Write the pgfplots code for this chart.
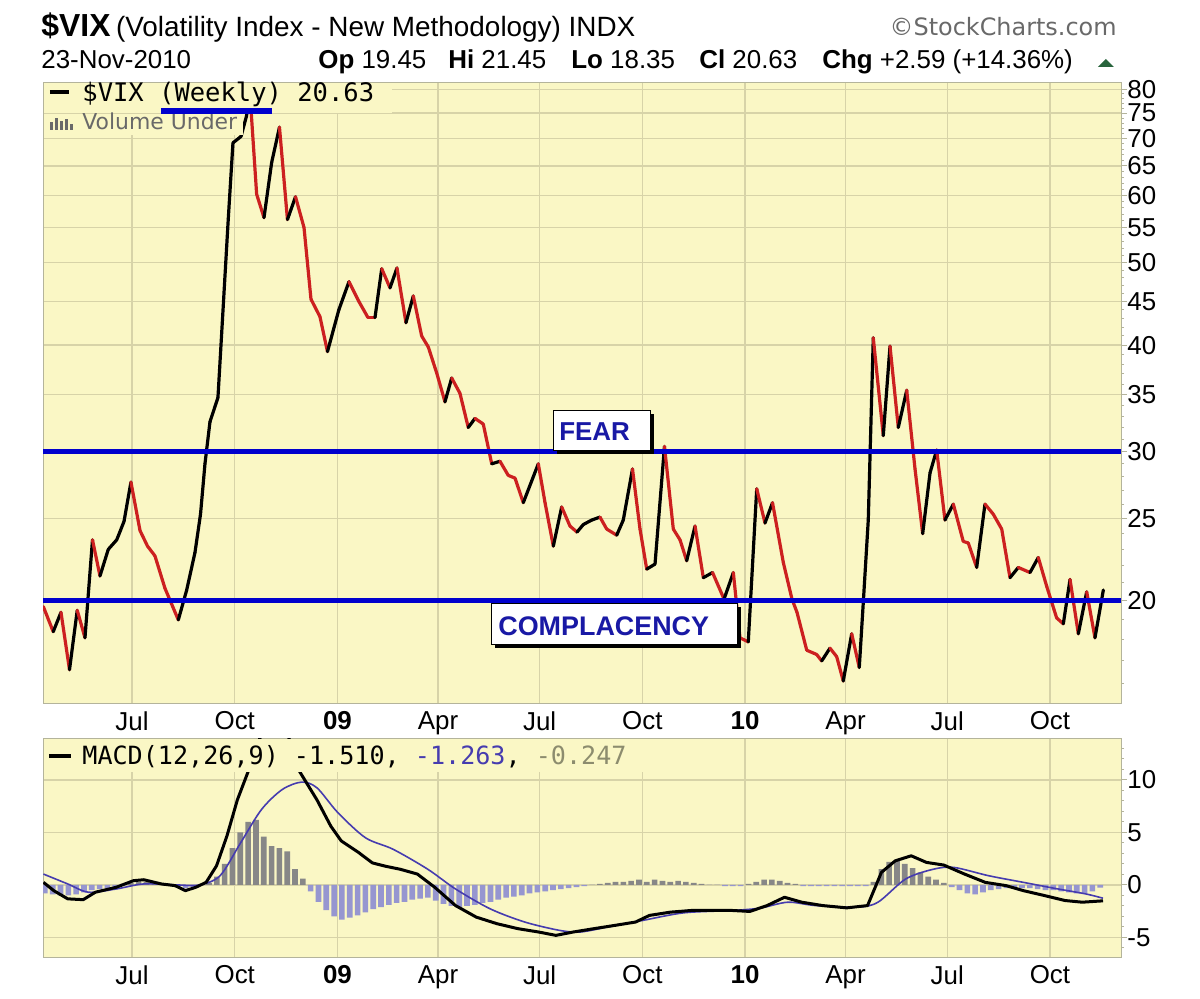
\documentclass[border=0pt]{standalone}
\usepackage{fontspec}
\setmainfont{Liberation Sans}
\newfontfamily\monof{DejaVu Sans Mono}
\newfontfamily\dvs{DejaVu Sans}
\usepackage{pgfplots}
\usepackage{pgfplotstable}
\pgfplotsset{compat=1.18}

\definecolor{panelbg}{RGB}{250,247,197}
\definecolor{gridc}{RGB}{215,211,168}
\definecolor{framec}{RGB}{180,180,155}
\definecolor{vixred}{RGB}{204,32,32}
\definecolor{lineblue}{RGB}{0,0,205}
\definecolor{boxblue}{RGB}{25,25,165}
\definecolor{sigblue}{RGB}{70,60,175}
\definecolor{histgray}{RGB}{135,135,135}
\definecolor{histlav}{RGB}{150,150,208}
\definecolor{txtgray}{RGB}{105,105,105}
\definecolor{olivegray}{RGB}{140,140,110}
\definecolor{upgreen}{RGB}{40,100,60}

% VIX weekly close: week index, value, c=1 if next segment falls (red)
\pgfplotstableread{
w v c
-0.20 19.7 1
1.07 18.4 0
2.06 19.4 1
3.15 16.6 0
4.14 19.5 1
5.13 18.1 0
6.09 23.6 1
7.05 21.4 0
8.11 23.0 0
9.19 23.6 0
10.12 24.8 0
11.01 27.6 1
12.17 24.2 1
13.13 23.2 1
14.08 22.6 1
15.36 20.7 1
17.07 19.0 0
18.14 20.6 0
19.20 22.8 0
19.91 25.3 0
20.48 29.0 0
21.12 32.5 0
22.14 34.7 0
22.72 42.9 0
23.46 56.3 0
24.06 69.2 0
25.09 70.4 0
25.79 74.4 0
26.24 79.0 1
27.09 60.2 1
28.03 56.5 0
29.01 65.6 0
30.01 72.2 1
31.03 56.2 0
32.06 59.8 1
33.15 55.0 1
34.04 45.3 1
35.19 43.2 1
36.15 39.3 0
37.60 44.0 0
38.90 47.5 1
40.18 45.0 1
41.33 43.1 1
42.23 43.1 0
43.09 49.2 1
44.15 46.7 0
45.04 49.3 1
46.19 42.5 0
47.13 45.7 1
48.20 41.0 1
49.05 39.8 1
50.12 37.1 1
51.18 34.3 0
52.04 36.6 1
53.10 35.1 1
54.16 32.0 0
55.02 32.8 1
56.08 32.3 1
57.16 29.0 0
58.22 29.2 1
59.28 28.1 1
60.14 27.9 1
61.20 26.1 0
63.12 29.0 1
63.98 26.1 1
65.04 23.2 0
66.11 25.8 1
67.17 24.5 1
68.07 24.1 0
68.88 24.6 0
69.95 24.9 0
71.01 25.1 1
71.87 24.3 1
73.15 23.9 0
73.99 24.9 0
75.17 28.6 1
76.13 24.3 1
76.99 21.8 0
78.05 22.1 0
79.26 30.4 1
80.39 24.3 1
81.25 23.6 1
82.10 22.3 0
83.17 24.5 1
84.23 21.3 0
85.41 21.6 1
86.88 20.1 0
88.07 21.6 1
88.92 18.1 1
89.98 17.9 0
91.06 27.1 1
92.12 24.7 0
93.08 26.1 1
94.46 22.2 1
95.57 20.1 1
96.21 19.4 1
97.46 17.5 1
98.73 17.3 1
99.37 17.0 0
100.43 17.6 1
101.29 17.2 1
102.13 16.1 0
103.21 18.3 1
104.18 16.7 0
104.69 19.9 0
105.33 24.9 0
105.97 40.8 1
107.25 31.3 0
108.11 39.9 1
109.17 32.0 0
110.25 35.4 1
111.31 28.6 1
112.29 24.0 0
113.23 28.3 0
114.08 30.1 1
115.14 24.9 0
116.21 26.0 1
117.48 23.5 1
118.12 23.4 1
119.20 21.9 0
120.26 26.0 1
121.32 25.3 1
122.40 24.3 1
123.46 21.3 0
124.52 21.9 1
126.02 21.6 0
127.08 22.5 1
128.16 20.8 1
129.43 19.1 1
130.28 18.8 0
131.14 21.2 1
132.20 18.3 0
133.27 20.5 1
134.33 18.1 0
135.40 20.6 0
}\vixdata

\pgfplotstableread{
w m
-0.18 0.25
1.14 -0.54
2.92 -1.32
4.90 -1.40
6.46 -0.69
9.12 -0.22
11.33 0.41
12.66 0.50
14.88 0.10
16.65 -0.06
17.98 -0.54
19.30 -0.22
20.63 0.25
21.96 1.83
23.29 4.67
24.62 8.10
25.95 10.70
27.50 14.00
29.50 15.50
31.00 14.50
32.59 10.80
34.81 8.10
36.58 5.60
37.91 4.20
40.12 3.10
41.90 2.10
43.67 1.77
45.44 1.50
47.65 1.04
49.87 -0.22
52.53 -1.96
55.18 -3.06
57.84 -3.69
60.50 -4.16
63.16 -4.48
65.37 -4.80
67.59 -4.48
70.24 -4.16
72.90 -3.85
75.56 -3.53
77.33 -2.90
79.99 -2.59
82.65 -2.43
85.30 -2.43
87.96 -2.43
90.18 -2.52
92.39 -1.96
94.61 -1.17
96.82 -1.64
99.48 -1.96
102.58 -2.18
105.24 -1.96
107.01 1.20
108.78 2.30
110.82 2.78
112.77 2.15
114.98 1.90
117.64 1.04
120.29 0.25
122.95 -0.06
125.17 -0.54
127.83 -1.00
130.49 -1.48
132.70 -1.64
135.36 -1.51
}\macddata

\pgfplotstableread{
w s
-0.18 1.04
2.92 0.10
5.57 -0.69
9.12 -0.38
12.66 0.10
17.09 0.00
19.75 0.00
22.41 0.88
25.06 4.04
27.72 7.20
30.38 9.10
32.86 9.80
34.81 9.25
37.47 6.90
41.01 4.50
44.55 3.40
48.98 1.50
52.53 -0.38
56.96 -2.27
61.39 -3.53
65.81 -4.32
68.47 -4.48
72.02 -4.00
76.45 -3.38
81.76 -2.65
87.96 -2.43
91.50 -2.20
95.05 -1.64
98.59 -1.96
103.91 -2.11
106.57 -1.64
110.11 0.57
113.65 1.50
116.31 1.67
120.74 0.88
125.17 0.25
129.60 -0.38
133.14 -0.85
135.36 -1.26
}\sigdata

\pgfplotstableread{
w h
0 -0.8
1 -0.9
2 -1.0
3 -1.0
4 -0.9
5 -0.7
6 -0.5
7 -0.4
8 -0.3
9 -0.2
10 0.1
11 0.2
12 0.3
13 0.3
14 0.2
15 0.1
16 0.0
17 -0.2
18 -0.3
19 -0.2
20 0.0
21 0.2
22 0.8
23 2.0
24 3.5
25 5.0
26 6.0
27 6.2
28 4.6
29 3.7
30 3.5
31 3.2
32 1.5
33 0.6
34 -0.6
35 -1.6
36 -2.4
37 -3.0
38 -3.3
39 -3.1
40 -2.9
41 -2.6
42 -2.3
43 -2.1
44 -1.9
45 -1.7
46 -1.6
47 -1.4
48 -1.3
49 -1.2
50 -1.5
51 -1.8
52 -2.0
53 -2.1
54 -2.0
55 -1.9
56 -1.7
57 -1.6
58 -1.4
59 -1.2
60 -1.1
61 -1.0
62 -0.8
63 -0.7
64 -0.6
65 -0.5
66 -0.4
67 -0.3
68 -0.2
69 -0.1
70 0.0
71 0.1
72 0.2
73 0.3
74 0.3
75 0.4
76 0.5
77 0.3
78 0.5
79 0.4
80 0.3
81 0.4
82 0.3
83 0.2
84 0.1
85 0.0
86 0.0
87 -0.1
88 -0.1
89 -0.1
90 0.1
91 0.3
92 0.5
93 0.5
94 0.4
95 0.2
96 0.1
97 -0.1
98 -0.1
99 -0.1
100 -0.1
101 -0.1
102 -0.1
103 -0.1
104 -0.1
105 -0.1
106 0.3
107 1.5
108 2.2
109 2.3
110 2.0
111 1.6
112 1.2
113 0.8
114 0.5
115 0.2
116 -0.2
117 -0.5
118 -0.8
119 -0.9
120 -0.7
121 -0.5
122 -0.4
123 -0.3
124 -0.3
125 -0.3
126 -0.3
127 -0.4
128 -0.5
129 -0.5
130 -0.6
131 -0.7
132 -0.8
133 -0.8
134 -0.6
135 -0.25
}\histdata

\pgfplotsset{
  chartbase/.style={
    scale only axis, width=539bp,
    xmin=-0.24, xmax=137.66,
    axis background/.style={fill=panelbg},
    axis line style={draw=framec},
    grid=major, major grid style={draw=gridc, line width=0.7bp},
    xtick={11.14,24.29,37.43,50.29,63.29,76.43,89.57,102.43,115.43,128.57},
    xticklabels={Jul,Oct,\textbf{09},Apr,Jul,Oct,\textbf{10},Apr,Jul,Oct},
    xtick pos=bottom, ytick pos=right, yticklabel pos=right,
    x tick style={draw=none},
    y tick style={draw=framec, line width=0.5bp},
    major tick length=3bp, minor tick length=1.5bp,
    tick align=outside,
    ticklabel style={font=\fontsize{13}{15}\selectfont},
    xticklabel style={inner sep=0pt, yshift=-1bp},
    yticklabel style={inner sep=0pt, xshift=0bp},
    /pgf/number format/assume math mode=true,
  }
}

\begin{document}
\begin{tikzpicture}
\path[use as bounding box] (0,0) rectangle (600bp,499.5bp);

% ---------- upper panel: VIX weekly (log scale) ----------
\begin{axis}[chartbase, at={(21.5bp,148bp)}, anchor=south west, height=310.5bp,
  ymode=log, ymin=15.17, ymax=81.6,
  ytick={20,25,30,35,40,45,50,55,60,65,70,75,80},
  yticklabels={20,25,30,35,40,45,50,55,60,65,70,75,80},
  minor ytick={16,17,18,19,21,22,23,24,26,27,28,29,31,32,33,34,36,37,38,39,41,42,43,44,46,47,48,49,51,52,53,54,56,57,58,59,61,62,63,64,66,67,68,69,71,72,73,74,76,77,78,79},
  colormap={vixcm}{color=(black) color=(vixred)},
  point meta min=0, point meta max=1,
]
\addplot[mesh, shader=flat corner, point meta=explicit, line width=1.6bp, line cap=round]
  table[x=w, y=v, meta=c] {\vixdata};
\addplot[lineblue, line width=2.5bp] coordinates {(-0.24,30) (137.66,30)};
\addplot[lineblue, line width=2.5bp] coordinates {(-0.24,20) (137.66,20)};
\end{axis}

% ---------- lower panel: MACD ----------
\begin{axis}[chartbase, at={(21.5bp,21bp)}, anchor=south west, height=109.5bp,
  ymin=-6.86, ymax=14.0,
  ytick={-5,0,5,10}, yticklabels={-5,0,5,10},
  minor ytick={-6,-4,-3,-2,-1,1,2,3,4,6,7,8,9,11,12,13},
]
\addplot[ybar, bar shift=0pt, bar width=0.72, fill=histgray, draw=none, restrict y to domain=0:100]
  table[x=w, y=h] {\histdata};
\addplot[ybar, bar shift=0pt, bar width=0.72, fill=histlav, draw=none, restrict y to domain=-100:0]
  table[x=w, y=h] {\histdata};
\addplot[sigblue, line width=0.8bp, smooth] table[x=w, y=s] {\sigdata};
\addplot[black, line width=1.5bp, line join=round] table[x=w, y=m] {\macddata};
\end{axis}

% ---------- annotations in pixel coordinates (y down) ----------
\begin{scope}[x=0.5bp, y=-0.5bp, shift={(0pt,499.5bp)}]
  % header
  \node[anchor=base west, inner sep=0] at (41,37)
    {{\fontsize{16}{18}\selectfont\bfseries \$VIX} {\fontsize{14}{16}\selectfont (Volatility Index - New Methodology) INDX}};
  \node[anchor=base east, inner sep=0, text=txtgray, font=\dvs\fontsize{12}{14}\selectfont] at (1117,36) {\textcopyright StockCharts.com};
  \begin{scope}[every node/.style={anchor=base west, inner sep=0, font=\fontsize{13}{15}\selectfont}]
    \node at (41,69) {23-Nov-2010};
    \node at (318,69) {\textbf{Op} 19.45};
    \node at (448,69) {\textbf{Hi} 21.45};
    \node at (571,69) {\textbf{Lo} 18.35};
    \node at (699,69) {\textbf{Cl} 20.63};
    \node at (822,69) {\textbf{Chg} +2.59 (+14.36\%)};
  \end{scope}
  \fill[upgreen] (1098,67) -- (1114,67) -- (1106,59) -- cycle;

  % upper legend
  \fill[panelbg] (44,83) rectangle (392,113);
  \fill[panelbg] (44,114) rectangle (243,135);
  \draw[black, line width=2bp] (50,92) -- (69,92);
  \node[anchor=base west, inner sep=0, font=\monof\fontsize{12.8}{14}\selectfont] at (82,102) {\$VIX (Weekly) 20.63};
  \fill[txtgray] (50,122) rectangle (53,130);
  \fill[txtgray] (55,118) rectangle (58,130);
  \fill[txtgray] (60,121) rectangle (63,130);
  \fill[txtgray] (65,119) rectangle (68,130);
  \fill[txtgray] (70,124) rectangle (73,130);
  \node[anchor=base west, inner sep=0, text=txtgray, font=\dvs\fontsize{11}{13}\selectfont] at (82,130) {Volume Under};
  \draw[lineblue, line width=3bp] (161,111.5) -- (272,111.5);

  % lower legend
  \fill[panelbg] (44,738.6) rectangle (650,772);
  \draw[black, line width=2bp] (49,756) -- (71,756);
  \node[anchor=base west, inner sep=0, font=\monof\fontsize{12.6}{14}\selectfont] at (82,765)
    {MACD(12,26,9) -1.510, \textcolor{sigblue}{-1.263}, \textcolor{olivegray}{-0.247}};

  % FEAR box
  \fill[black] (557,414) rectangle (654,454);
  \filldraw[fill=white, draw=black, line width=0.5bp] (554,411) rectangle (651,451);
  \node[anchor=west, inner sep=0, text=boxblue, font=\fontsize{13}{15}\selectfont\bfseries] at (559,432) {FEAR};
  % COMPLACENCY box
  \fill[black] (495,607) rectangle (741,648);
  \filldraw[fill=white, draw=black, line width=0.5bp] (492,604) rectangle (738,645);
  \node[anchor=west, inner sep=0, text=boxblue, font=\fontsize{13.5}{15}\selectfont\bfseries] at (498,626) {COMPLACENCY};
\end{scope}
\end{tikzpicture}
\end{document}
